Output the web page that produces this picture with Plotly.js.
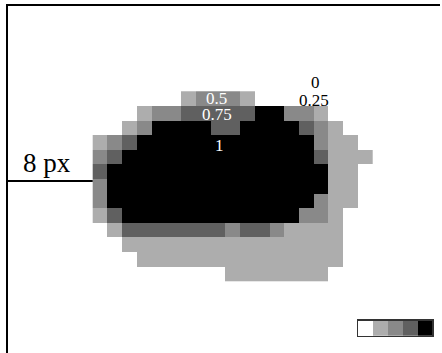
<!DOCTYPE html>
<html><head><meta charset="utf-8">
<script src="https://cdn.plot.ly/plotly-3.0.1.min.js"></script>
<style>html,body{margin:0;padding:0;background:#fff}#chart{width:442px;height:353px}</style>
</head><body><div id="chart"></div>
<script>
// pixel-grid values (rows top to bottom, 19 columns)
const row0  = [0,0,0,0,0,0,.25,.5,.5,.5,.25,0,0,0,0,0,0,0,0];
const row1  = [0,0,0,.25,.5,.5,.75,.75,.75,.75,.75,1,1,.5,.5,.25,0,0,0];
const row2  = [0,0,.25,.5,1,1,1,1,.75,.75,1,1,1,1,.75,.5,.25,0,0];
const row3  = [.25,.5,.75,1,1,1,1,1,1,1,1,1,1,1,1,.5,.25,.25,0];
const row4  = [.5,.75,1,1,1,1,1,1,1,1,1,1,1,1,1,.75,.25,.25,.25];
const row5  = [.75,1,1,1,1,1,1,1,1,1,1,1,1,1,1,1,.25,.25,0];
const row6  = [.5,1,1,1,1,1,1,1,1,1,1,1,1,1,1,1,.25,.25,0];
const row7  = [.5,1,1,1,1,1,1,1,1,1,1,1,1,1,1,.5,.25,.25,0];
const row8  = [.25,.75,1,1,1,1,1,1,1,1,1,1,1,1,.5,.5,.25,0,0];
const row9  = [0,.25,.75,.75,.75,.75,.75,.75,.75,.5,.75,.75,.5,.25,.25,.25,.25,0,0];
const row10 = [0,0,.25,.25,.25,.25,.25,.25,.25,.25,.25,.25,.25,.25,.25,.25,.25,0,0];
const row11 = [0,0,0,.25,.25,.25,.25,.25,.25,.25,.25,.25,.25,.25,.25,.25,.25,0,0];
const row12 = [0,0,0,0,0,0,0,0,0,.25,.25,.25,.25,.25,.25,.25,0,0,0];
const legendLevels = [0,0.25,0.5,0.75,1];
const levelLabels = ["0","0.25","0.5","0.75","1"];
const scaleLabel = "8 px";

const z = [row0,row1,row2,row3,row4,row5,row6,row7,row8,row9,row10,row11,row12];
const cs = [[0,'#ffffff'],[0.25,'#adadad'],[0.5,'#898989'],[0.75,'#606060'],[1,'#000000']];
const xr = [-6.246, 23.06];
const yr = [17.43, -6.342];
const serif = 'Liberation Serif, Times New Roman, serif';

const traces = [
  {type:'heatmap', z:z, colorscale:cs, zmin:0, zmax:1, showscale:false, hoverinfo:'skip'},
  {type:'heatmap', z:[legendLevels], colorscale:cs, zmin:0, zmax:1, showscale:false, xaxis:'x2', yaxis:'y2', hoverinfo:'skip'}
];
const ann = (txt,x,y,col,size)=>({text:txt,x:x,y:y,xref:'x',yref:'y',showarrow:false,
  font:{family:serif,size:size,color:col},xanchor:'center',yanchor:'middle'});
const layout = {
  width:442,height:353,margin:{l:8,r:2,t:6,b:0,pad:0},
  paper_bgcolor:'#fff',plot_bgcolor:'#fff',showlegend:false,
  xaxis:{range:xr,side:'top',showline:true,linecolor:'#000',linewidth:2,showgrid:false,zeroline:false,
    showticklabels:false,ticks:'',fixedrange:true},
  yaxis:{range:yr,showline:true,linecolor:'#000',linewidth:2,showgrid:false,zeroline:false,
    showticklabels:false,ticks:'',fixedrange:true},
  xaxis2:{domain:[0.811,0.982],anchor:'y2',range:[-0.5,4.5],showline:true,mirror:true,linecolor:'#333',linewidth:1.5,
    showgrid:false,zeroline:false,showticklabels:false,ticks:''},
  yaxis2:{domain:[0.049,0.093],anchor:'x2',range:[-0.5,0.5],showline:true,mirror:true,linecolor:'#333',linewidth:1.5,
    showgrid:false,zeroline:false,showticklabels:false,ticks:''},
  shapes:[{type:'line',xref:'x',yref:'y',x0:xr[0],x1:-0.5,y0:5.64,y1:5.64,line:{color:'#000',width:2}}],
  annotations:[
    ann(levelLabels[2],7.93,0.02,'#fff',17),
    ann(levelLabels[3],7.95,1.1,'#fff',17),
    ann(levelLabels[4],8.07,3.2,'#fff',17),
    ann(levelLabels[0],14.58,-1.12,'#000',17),
    ann(levelLabels[1],14.48,0.1,'#000',17),
    ann(scaleLabel,-3.6,4.42,'#000',27)
  ]
};
Plotly.newPlot('chart',traces,layout,{displayModeBar:false,staticPlot:true});
</script></body></html>
